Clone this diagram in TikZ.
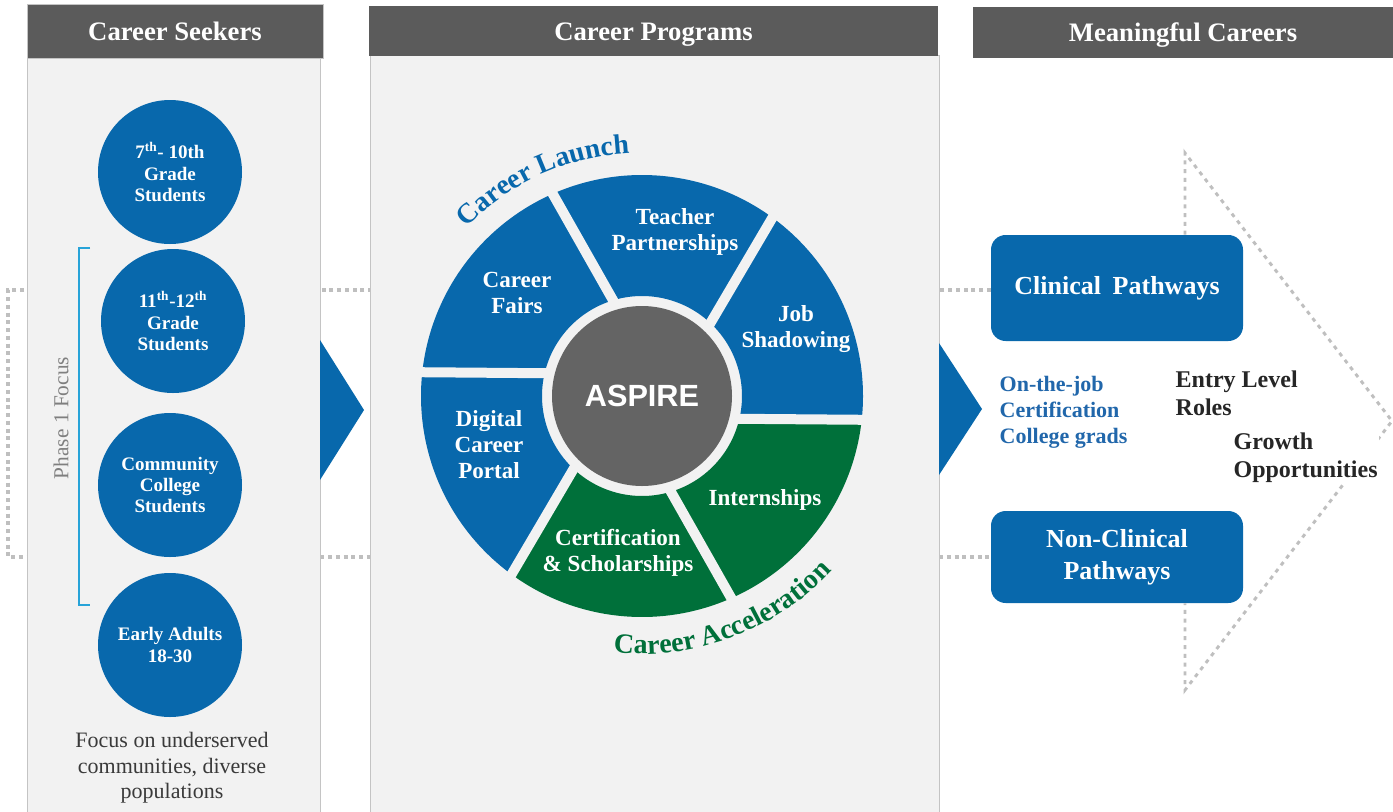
\documentclass[tikz,border=0pt]{standalone}
\usepackage{fontspec}
\setmainfont{Liberation Serif}
\newfontfamily\aspfont{Liberation Sans}
\usetikzlibrary{decorations.text}
\definecolor{cblue}{HTML}{0868AC}
\definecolor{cgreen}{HTML}{00703A}
\definecolor{hdr}{HTML}{5B5B5B}
\definecolor{panel}{HTML}{F2F2F2}
\definecolor{pborder}{HTML}{C4C4C4}
\definecolor{dotc}{HTML}{BFBFBF}
\definecolor{aspgray}{HTML}{646464}
\definecolor{txtblue}{HTML}{2167AB}
\definecolor{dark}{HTML}{262626}
\definecolor{focusc}{HTML}{3A3A3A}
\definecolor{phasec}{HTML}{7F7F7F}
\definecolor{bracketc}{HTML}{27A3D8}
\newdimen\px \px=0.75pt
\newcommand\launchfont{\fontsize{21}{21}\selectfont\bfseries\color{cblue}}
\newcommand\accelfont{\fontsize{21}{21}\selectfont\bfseries\color{cgreen}}
\begin{document}
\begin{tikzpicture}[x=0.75pt,y=-0.75pt,
  panelbox/.style={fill=panel, draw=pborder, line width=0.75pt},
  hdrbar/.style={fill=hdr, text=white, inner sep=0pt, text height=17pt, text depth=3.5pt, font=\fontsize{20}{24}\selectfont\bfseries},
  seeker/.style={circle, fill=cblue, minimum size=144\px, inner sep=0pt, text=white, align=center, font=\fontsize{14.3}{16}\selectfont\bfseries},
  segtext/.style={text=white, align=center, font=\fontsize{17.3}{19.5}\selectfont\bfseries},
  dotline/.style={draw=dotc, line width=2.4pt, dash pattern=on 3pt off 2.8pt},
  chevline/.style={draw=dotc, line width=2.2pt, dash pattern=on 3pt off 3.6pt},
  pathbox/.style={fill=cblue, rounded corners=11pt, text=white, align=center, minimum width=252\px, inner sep=0pt, font=\fontsize{19.5}{24}\selectfont\bfseries}
]
\useasboundingbox (0,0) rectangle (1393,811);
\fill[white] (0,0) rectangle (1393,811);

% right side boxes (named first for the dotted loop)
\node[pathbox, minimum height=106\px] (clin) at (1117,288) {Clinical\hspace{0.45em}Pathways};
\node[pathbox, minimum height=92\px] (nonclin) at (1117,557) {Non-Clinical\\Pathways};

% dotted loop
\coordinate (lt) at (8,290);
\draw[dotline] ([yshift=-1.5pt]clin.west) -- ([yshift=-1.5pt]clin.west -| lt) |- (nonclin.west);

% panels
\draw[panelbox] (27,58) rectangle (320,812);
\draw[panelbox] (370,55) rectangle (939,812);

% headers
\node[hdrbar, draw=pborder, line width=0.75pt, minimum width=296\px, minimum height=54\px] (h1) at (175,31) {Career Seekers};
\node[hdrbar, minimum width=569\px, minimum height=50\px] (h2) at (653.5,31) {Career Programs};
\node[hdrbar, minimum width=421\px, minimum height=51\px] (h3) at (1183,32.5) {Meaningful Careers};

% arrows
\fill[cblue] (320,340) -- (364,410) -- (320,480) -- cycle;
\fill[cblue] (939,343) -- (982,409) -- (939,475) -- cycle;

% career seekers
\node[seeker] (s1) at (170,172) {7\textsuperscript{th}- 10th\\Grade\\Students};
\node[seeker] (s2) at (173,321) {11\textsuperscript{th}-12\textsuperscript{th}\\Grade\\Students};
\node[seeker] (s3) at (170,485) {Community\\College\\Students};
\node[seeker] (s4) at (170,645) {Early Adults\\18-30};
\draw[bracketc, line width=1.5pt] (90,248) -- (79,248) -- (79,605) -- (90,605);
\node[rotate=90, text=phasec, font=\fontsize{16}{16}\selectfont] (ph) at (61,418) {Phase 1 Focus};
\node[align=center, text=focusc, font=\fontsize{16.5}{19}\selectfont] (focus) at (172,768) {Focus on underserved\\communities, diverse\\populations};

% wheel
\begin{scope}[shift={(642,396)}]
  \foreach \b/\c in {-174/cblue,-114/cblue,-54/cblue,6/cgreen,66/cgreen,126/cblue}
    \fill[\c] (\b:221) arc[start angle=\b, end angle=\b+60, radius=221]
      -- (\b+68:100) arc[start angle=\b+68, end angle=\b+8, radius=100] -- cycle;
  \foreach \b in {-174,-114,-54,6,66,126}
    \draw[panel, line width=10\px] (\b:228) -- (\b+8:94);
  \node[circle, fill=aspgray, minimum size=180\px, inner sep=0pt, text=white, font=\aspfont\fontsize{23}{23}\selectfont\bfseries] (asp) at (0,0) {ASPIRE};
  \path[decorate, decoration={text along path, text={|\launchfont|Career Launch}, text align=center}]
    (-145:243) arc[start angle=-145, end angle=-84, radius=243];
  \path[decorate, decoration={text along path, text={|\accelfont|Career Acceleration}, text align=center}]
    (104.5:258) arc[start angle=104.5, end angle=34.5, radius=258];
\end{scope}
\node[segtext] (fairs) at (517,293) {Career\\Fairs};
\node[segtext] (teach) at (675,232) {Teacher\\Partnerships};
\node[segtext] (job) at (796,329) {Job\\Shadowing};
\node[segtext] (intern) at (765,500) {Internships};
\node[segtext] (cert) at (618,553) {Certification\\\& Scholarships};
\node[segtext] (digital) at (489,445) {Digital\\Career\\Portal};

% right side
\draw[chevline] (clin.north -| 1185,0) -- (1185,153) -- (1392,421) -- (1185,690) -- (nonclin.south -| 1185,0);
\node[anchor=west, align=left, text=txtblue, font=\fontsize{16.5}{19.5}\selectfont\bfseries] (otj) at (995,412) {On-the-job\\Certification\\College grads};
\node[anchor=west, align=left, text=dark, font=\fontsize{18}{21}\selectfont\bfseries] (entry) at (1171,393) {Entry Level\\Roles};
\node[anchor=west, align=left, text=dark, fill=white, inner sep=1pt, font=\fontsize{18}{21}\selectfont\bfseries] (growth) at (1232,458) {Growth\\Opportunities};
\end{tikzpicture}
\end{document}
